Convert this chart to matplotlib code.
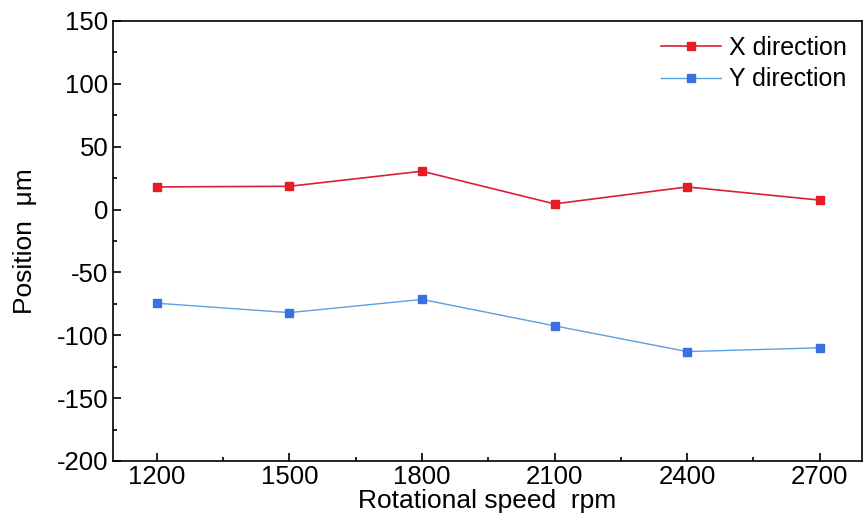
import matplotlib.pyplot as plt
from matplotlib.ticker import MultipleLocator

plt.rcParams['font.family'] = ['Liberation Sans', 'DejaVu Sans']
plt.rcParams['axes.unicode_minus'] = False

speed = [1200, 1500, 1800, 2100, 2400, 2700]
x_dir = [18, 18.5, 30.5, 4.5, 18, 7.5]
y_dir = [-74.5, -82, -71.5, -92.5, -113, -110]

fig = plt.figure(figsize=(8.66, 5.25), dpi=100)
ax = fig.add_axes([0.13, 0.122, 0.865, 0.838])

ax.plot(speed, x_dir, color='#d8203a', lw=1.2, marker='s', ms=6,
        markerfacecolor='#e81c24', markeredgecolor='#e81c24', label='X direction')
ax.plot(speed, y_dir, color='#5ba0e0', lw=1.0, marker='s', ms=6,
        markerfacecolor='#3a6fe0', markeredgecolor='#3a6fe0', label='Y direction')

ax.set_xlim(1100, 2795)
ax.set_ylim(-200, 150)
ax.set_xticks(speed)
ax.set_yticks(range(-200, 151, 50))
ax.xaxis.set_minor_locator(MultipleLocator(150))
ax.yaxis.set_minor_locator(MultipleLocator(25))
ax.tick_params(which='both', direction='in', labelsize=18.5, width=1.2)
ax.tick_params(which='major', length=6, pad=3)
ax.tick_params(which='minor', length=3)
for s in ax.spines.values():
    s.set_linewidth(1.2)

ax.set_xlabel('Rotational speed  rpm', fontsize=19, labelpad=0)
ax.set_ylabel('Position  μm', fontsize=19, labelpad=14)
ax.legend(loc='upper right', frameon=False, fontsize=18, handlelength=2.4,
          handletextpad=0.3, labelspacing=0.3, borderaxespad=0.2)

fig.savefig('out.png', dpi=100)
